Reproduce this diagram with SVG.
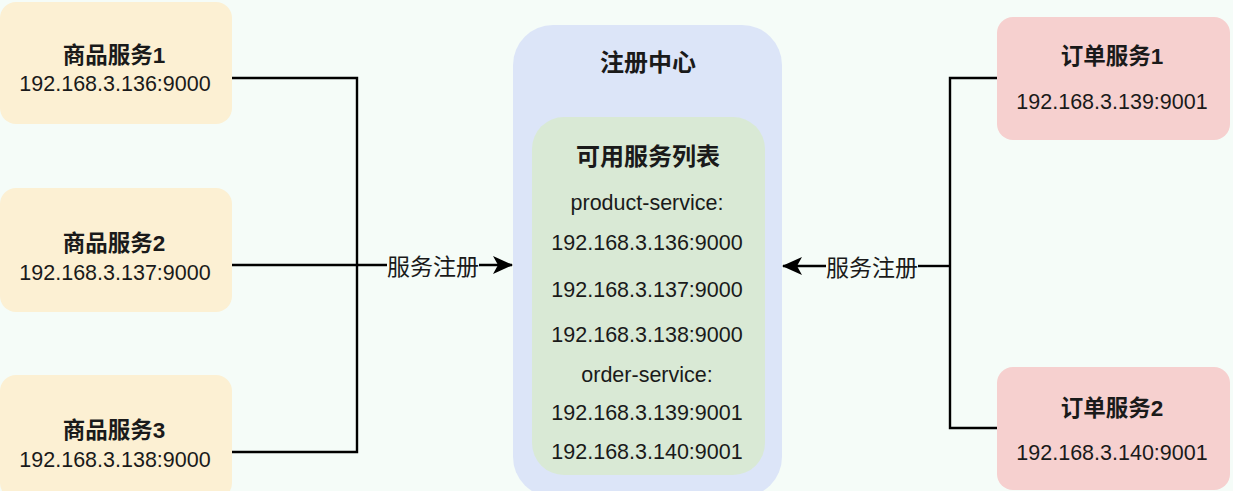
<svg xmlns="http://www.w3.org/2000/svg" width="1233" height="491" viewBox="0 0 1233 491">
<style>
.bg{fill:#f5fcf8}
.prod{fill:#fcf0d3}
.order{fill:#f6d0cf}
.reg{fill:#dce5f8}
.list{fill:#d9e9d5}
.t{font-family:"Liberation Sans","Noto Sans CJK SC",sans-serif;fill:#1a1a1a;text-anchor:middle}
.title{font-size:22.5px;font-weight:bold}
.big{font-size:24px;font-weight:bold}
.ip{font-size:21.5px}
.lbl{font-size:23px}
.ln{fill:none;stroke:#000;stroke-width:2.4}
</style>
<defs>
<marker id="arr" viewBox="0 0 20 18" refX="19" refY="9" markerWidth="20" markerHeight="18" markerUnits="userSpaceOnUse" orient="auto">
<path d="M0,0 L20,9 L0,18 L5,9 Z" fill="#000"/>
</marker>
</defs>
<rect class="bg" x="0" y="0" width="1233" height="491"/>

<g id="prod1">
<rect class="prod" x="0" y="2" width="232" height="122" rx="16"/>
<text class="t title" x="114" y="63">商品服务1</text>
<text class="t ip" x="115" y="91">192.168.3.136:9000</text>
</g>
<g id="prod2">
<rect class="prod" x="0" y="188" width="232" height="124" rx="16"/>
<text class="t title" x="114" y="251">商品服务2</text>
<text class="t ip" x="115" y="280">192.168.3.137:9000</text>
</g>
<g id="prod3">
<rect class="prod" x="0" y="375" width="232" height="124" rx="16"/>
<text class="t title" x="114" y="438">商品服务3</text>
<text class="t ip" x="115" y="467">192.168.3.138:9000</text>
</g>

<g id="registry">
<rect class="reg" x="513" y="25" width="269" height="472" rx="40"/>
<text class="t big" x="648" y="71">注册中心</text>
</g>
<g id="service-list">
<rect class="list" x="532" y="117" width="233" height="358" rx="32"/>
<text class="t big" x="648" y="165">可用服务列表</text>
<text class="t ip" x="647" y="210">product-service:</text>
<text class="t ip" x="647" y="250">192.168.3.136:9000</text>
<text class="t ip" x="647" y="297">192.168.3.137:9000</text>
<text class="t ip" x="647" y="342">192.168.3.138:9000</text>
<text class="t ip" x="647" y="382">order-service:</text>
<text class="t ip" x="647" y="420">192.168.3.139:9001</text>
<text class="t ip" x="647" y="459">192.168.3.140:9001</text>
</g>

<g id="order1">
<rect class="order" x="997" y="17" width="233" height="123" rx="16"/>
<text class="t title" x="1112" y="64">订单服务1</text>
<text class="t ip" x="1112" y="109">192.168.3.139:9001</text>
</g>
<g id="order2">
<rect class="order" x="997" y="367" width="233" height="123" rx="16"/>
<text class="t title" x="1112" y="416">订单服务2</text>
<text class="t ip" x="1112" y="460">192.168.3.140:9001</text>
</g>

<g id="connectors">
<path class="ln" d="M232,78 H357 V452 H232"/>
<path class="ln" d="M232,265 H387"/>
<path class="ln" d="M479,265 H512" marker-end="url(#arr)"/>
<text class="t lbl" x="433" y="275" style="font-weight:normal">服务注册</text>
<path class="ln" d="M950,266 H918"/>
<path class="ln" d="M826,266 H783" marker-end="url(#arr)"/>
<path class="ln" d="M997,78 H950 V428 H997"/>
<text class="t lbl" x="872" y="276" style="font-weight:normal">服务注册</text>
</g>
</svg>
